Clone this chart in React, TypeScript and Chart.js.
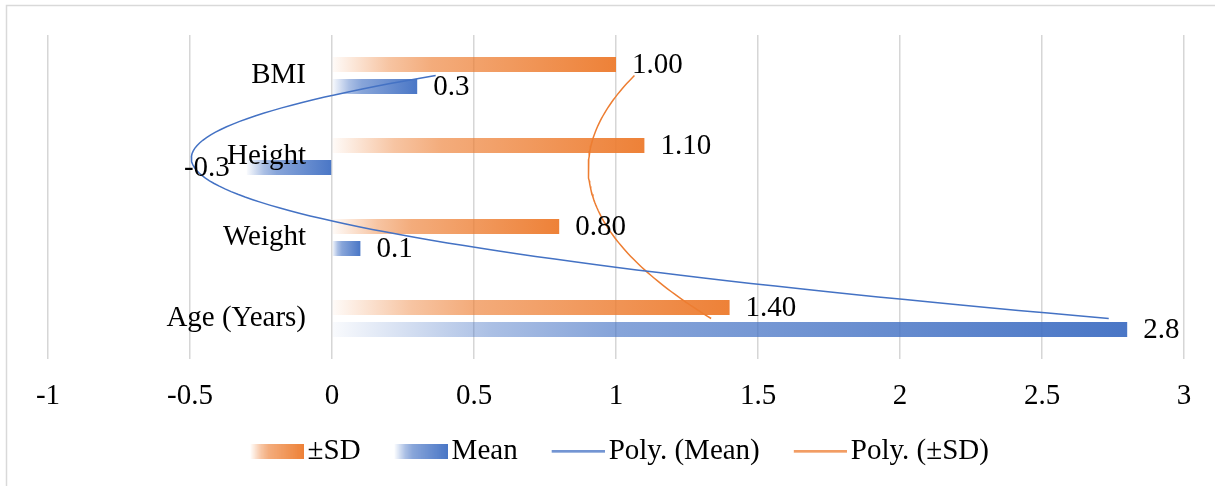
import React, { useEffect, useRef } from 'react';
import { Chart, registerables } from 'chart.js';

Chart.register(...registerables);

// ---------- data ----------
const categories: string[] = ['BMI', 'Height', 'Weight', 'Age (Years)'];
const sdValues: number[] = [1.0, 1.1, 0.8, 1.4];
const meanValues: number[] = [0.3, -0.3, 0.1, 2.8];
const xTickValues: number[] = [-1, -0.5, 0, 0.5, 1, 1.5, 2, 2.5, 3];
const seriesLabels: string[] = ['±SD', 'Mean', 'Poly. (Mean)', 'Poly. (±SD)'];
const sdDecimals = 2;
const meanDecimals = 1;
const trendOrder = 2;

// ---------- styles ----------
const ORANGE = [237, 125, 49];
const BLUE = [68, 114, 196];
const FONT = '"Liberation Serif", "Times New Roman", serif';
const FONT_SIZE = 29;

function rgba(c: number[], a: number) {
  return `rgba(${c[0]},${c[1]},${c[2]},${a})`;
}

const gradStops: number[][] = [
  [0, 0.03],
  [0.2, 0.45],
  [0.35, 0.64],
  [1, 0.97],
];

function fillGradient(g: CanvasRenderingContext2D, c: number[], left: number, right: number) {
  const grad = g.createLinearGradient(left, 0, right, 0);
  gradStops.forEach(([o, a]) => grad.addColorStop(o, rgba(c, a)));
  return grad;
}

const barBg = (c: number[]) => (ctx: any) => {
  if (ctx.type !== 'data') return rgba(c, 1);
  const xs = ctx.chart.scales.x;
  if (!xs) return rgba(c, 1);
  const v = ctx.raw && typeof ctx.raw === 'object' ? ctx.raw.x : ctx.raw;
  const a = xs.getPixelForValue(0);
  const b = xs.getPixelForValue(v as number);
  if (!isFinite(a) || !isFinite(b) || Math.abs(a - b) < 1) return rgba(c, 1);
  return fillGradient(ctx.chart.ctx, c, Math.min(a, b), Math.max(a, b));
};

// least-squares polynomial fit (like Excel's polynomial trendline)
function polyFit(xs: number[], ys: number[], order: number): number[] {
  const n = order + 1;
  const A: number[][] = Array.from({ length: n }, () => new Array(n + 1).fill(0));
  for (let k = 0; k < xs.length; k++) {
    for (let i = 0; i < n; i++) {
      for (let j = 0; j < n; j++) A[i][j] += Math.pow(xs[k], i + j);
      A[i][n] += ys[k] * Math.pow(xs[k], i);
    }
  }
  for (let i = 0; i < n; i++) {
    let p = i;
    for (let r = i + 1; r < n; r++) if (Math.abs(A[r][i]) > Math.abs(A[p][i])) p = r;
    const tmp = A[i]; A[i] = A[p]; A[p] = tmp;
    for (let r = 0; r < n; r++) {
      if (r === i) continue;
      const f = A[r][i] / A[i][i];
      for (let c = i; c <= n; c++) A[r][c] -= f * A[i][c];
    }
  }
  return A.map((row, i) => row[n] / row[i]);
}

function trendPoints(values: number[]) {
  const pos = values.map((_, i) => i);
  const coef = polyFit(pos, values, trendOrder);
  const pts: { x: number; y: number }[] = [];
  const steps = 90;
  for (let s = 0; s <= steps; s++) {
    const t = (pos.length - 1) * (s / steps);
    const v = coef.reduce((acc, c, k) => acc + c * Math.pow(t, k), 0);
    pts.push({ x: v, y: t });
  }
  return pts;
}

const barData = (values: number[]) => values.map((v, i) => ({ x: v, y: i }));

// legend swatches (transparent left margin lets the text sit close to the swatch)
const LEG_BW = 50;
const LEG_W = LEG_BW + 21;
function swatch(kind: 'bar' | 'line', c: number[]) {
  const W = LEG_W;
  const H = kind === 'bar' ? 15 : 3;
  const cv = document.createElement('canvas');
  cv.width = W;
  cv.height = H;
  const g = cv.getContext('2d')!;
  if (kind === 'bar') {
    g.fillStyle = fillGradient(g, c, W - 53, W);
    g.fillRect(W - 53, 0, 53, H);
  } else {
    g.fillStyle = rgba(c, 1);
    g.fillRect(W - 53, 0.5, 53, 2);
  }
  return cv;
}

const framePlugin = {
  id: 'frame',
  beforeDraw(chart: any) {
    const g = chart.ctx;
    g.save();
    g.fillStyle = '#ffffff';
    g.fillRect(0, 0, chart.width, chart.height);
    g.strokeStyle = '#d9d9d9';
    g.lineWidth = 1.5;
    g.beginPath();
    g.moveTo(6.5, chart.height);
    g.lineTo(6.5, 5.5);
    g.lineTo(chart.width, 5.5);
    g.stroke();
    g.restore();
  },
};

// category names drawn next to the value axis' zero line (Excel "next to axis")
const categoryLabelPlugin = {
  id: 'categoryLabels',
  afterDatasetsDraw(chart: any) {
    const g = chart.ctx;
    const xs = chart.scales.x;
    const ys = chart.scales.y;
    g.save();
    g.font = `${FONT_SIZE}px ${FONT}`;
    g.fillStyle = '#000';
    g.textAlign = 'right';
    g.textBaseline = 'middle';
    const x0 = xs.getPixelForValue(0) - 26;
    categories.forEach((name, i) => {
      g.fillText(name, x0, ys.getPixelForValue(i));
    });
    g.restore();
  },
};

const valueLabelPlugin = {
  id: 'valueLabels',
  afterDatasetsDraw(chart: any) {
    const g = chart.ctx;
    g.save();
    g.font = `${FONT_SIZE}px ${FONT}`;
    g.fillStyle = '#000';
    g.textBaseline = 'middle';
    const sources = [sdValues, meanValues];
    [0, 1].forEach((di) => {
      const meta = chart.getDatasetMeta(di);
      const vals = sources[di];
      const dec = di === 0 ? sdDecimals : meanDecimals;
      meta.data.forEach((el: any, i: number) => {
        const v = vals[i];
        const { x, y } = el.getProps(['x', 'y'], true);
        const txt = v.toFixed(dec);
        if (v >= 0) {
          g.textAlign = 'left';
          g.fillText(txt, x + 16, y + 1);
        } else {
          g.textAlign = 'right';
          g.fillText(txt, x - 17, y + 1);
        }
      });
    });
    g.restore();
  },
};

export default function App() {
  const ref = useRef<HTMLCanvasElement | null>(null);

  useEffect(() => {
    if (!ref.current) return;
    const legendImages = [
      swatch('bar', ORANGE),
      swatch('bar', BLUE),
      swatch('line', BLUE),
      swatch('line', ORANGE),
    ];
    const chart = new Chart(ref.current, {
      type: 'bar',
      data: {
        datasets: [
          {
            type: 'bar',
            label: seriesLabels[0],
            data: barData(sdValues),
            backgroundColor: barBg(ORANGE),
            borderWidth: 0,
            categoryPercentage: 0.543,
            barPercentage: 0.68,
            order: 1,
          },
          {
            type: 'bar',
            label: seriesLabels[1],
            data: barData(meanValues),
            backgroundColor: barBg(BLUE),
            borderWidth: 0,
            categoryPercentage: 0.543,
            barPercentage: 0.68,
            order: 1,
          },
          {
            type: 'line',
            label: seriesLabels[2],
            data: trendPoints(meanValues),
            borderColor: rgba(BLUE, 1),
            borderWidth: 1.5,
            pointRadius: 0,
            tension: 0,
            fill: false,
            order: 0,
          },
          {
            type: 'line',
            label: seriesLabels[3],
            data: trendPoints(sdValues),
            borderColor: rgba(ORANGE, 1),
            borderWidth: 1.5,
            pointRadius: 0,
            tension: 0,
            fill: false,
            order: 0,
          },
        ] as any,
      },
      options: {
        indexAxis: 'y',
        animation: false,
        responsive: false,
        maintainAspectRatio: false,
        layout: { padding: { left: 48, right: 31, top: 35, bottom: 10.5 } },
        scales: {
          x: {
            type: 'linear',
            min: xTickValues[0],
            max: xTickValues[xTickValues.length - 1],
            position: 'bottom',
            afterBuildTicks: (s: any) => {
              s.ticks = xTickValues.map((v) => ({ value: v }));
            },
            afterFit: (s: any) => {
              s.height = 51;
            },
            ticks: {
              callback: (v: any) => String(v),
              font: { family: FONT, size: FONT_SIZE, lineHeight: 1 },
              color: '#000',
              padding: 22.5,
              autoSkip: false,
              maxRotation: 0,
            },
            grid: { color: '#d6d6d6', lineWidth: 1.5, drawTicks: false },
            border: { display: false },
          },
          y: {
            type: 'linear',
            display: false,
            offset: false,
            min: -0.5,
            max: categories.length - 0.5,
            reverse: true,
            afterBuildTicks: (s: any) => {
              s.ticks = categories.map((_, i) => ({ value: i }));
            },
          },
        } as any,
        plugins: {
          tooltip: { enabled: false },
          legend: {
            position: 'bottom',
            labels: {
              usePointStyle: true,
              pointStyleWidth: LEG_BW,
              padding: 26.5,
              font: { family: FONT, size: FONT_SIZE },
              color: '#000',
              generateLabels: (ch: any) =>
                ch.data.datasets.map((ds: any, i: number) => ({
                  text: ds.label,
                  pointStyle: legendImages[i],
                  fillStyle: 'rgba(0,0,0,0)',
                  strokeStyle: 'rgba(0,0,0,0)',
                  lineWidth: 0,
                  hidden: false,
                  datasetIndex: i,
                  fontColor: '#000',
                })),
            },
          },
        },
      } as any,
      plugins: [framePlugin, valueLabelPlugin, categoryLabelPlugin],
    });
    return () => chart.destroy();
  }, []);

  return (
    <div style={{ position: 'fixed', left: 0, top: 0, width: 1215, height: 486, background: '#fff' }}>
      <canvas ref={ref} width={1215} height={486} style={{ display: 'block', width: 1215, height: 486 }} />
    </div>
  );
}
